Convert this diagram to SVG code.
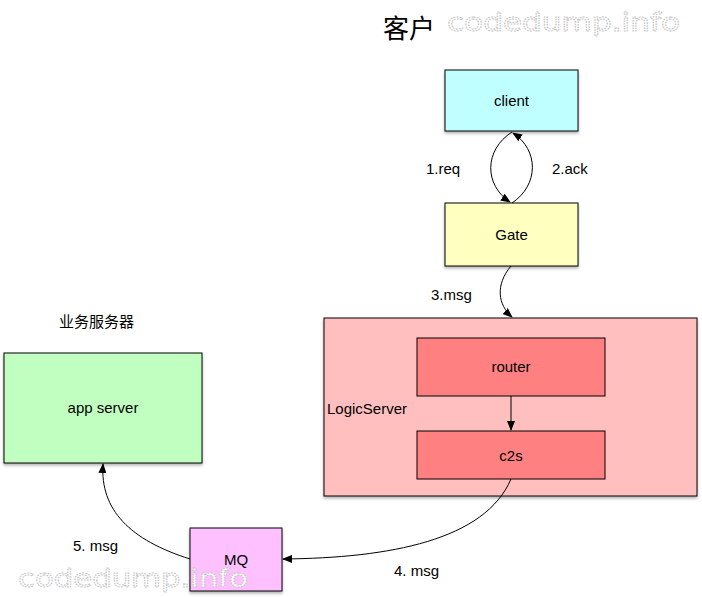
<svg xmlns="http://www.w3.org/2000/svg" width="702" height="597" viewBox="0 0 702 597">
<defs>
<style>
text{font-family:"Liberation Sans","Noto Sans CJK SC",sans-serif;font-size:15px;fill:#000}
.c{text-anchor:middle}
.box{stroke:#000;stroke-width:1}
.edge{fill:none;stroke:#000;stroke-width:1}
.wm{font-family:"DejaVu Sans",sans-serif;font-size:25px;fill:#fff;stroke:#c4c4c4;stroke-width:1;stroke-dasharray:1.5 1}
</style>
<marker id="ah" markerWidth="10" markerHeight="8" refX="9" refY="4" orient="auto" markerUnits="userSpaceOnUse">
<path d="M0,0 L10,4 L0,8 Z" fill="#000"/>
</marker>
<filter id="sh" x="-10%" y="-10%" width="130%" height="130%">
<feDropShadow dx="0" dy="2" stdDeviation="1.5" flood-color="#000" flood-opacity="0.3"/>
</filter>
</defs>
<rect width="702" height="597" fill="#fff"/>
<g id="title"><text x="383" y="38" style="font-size:26px">客户</text></g>
<g id="app-label"><text x="59" y="327">业务服务器</text></g>
<g id="client"><rect class="box" x="445" y="70" width="133" height="61" fill="#C0FFFF" filter="url(#sh)"/><text class="c" x="511.5" y="106">client</text></g>
<g id="gate"><rect class="box" x="445" y="203" width="133" height="63" fill="#FFFFC0" filter="url(#sh)"/><text class="c" x="511.5" y="240">Gate</text></g>
<g id="logicserver"><rect class="box" x="324" y="318" width="373" height="178" fill="#FFBFBF" filter="url(#sh)"/><text x="327" y="414">LogicServer</text></g>
<g id="router"><rect class="box" x="417" y="338" width="188" height="58" fill="#FF8080"/><text class="c" x="511" y="372">router</text></g>
<g id="c2s"><rect class="box" x="417" y="431" width="188" height="48" fill="#FF8080"/><text class="c" x="511" y="461">c2s</text></g>
<g id="appserver"><rect class="box" x="4" y="353" width="198" height="110" fill="#C0FFC0" filter="url(#sh)"/><text class="c" x="103" y="413">app server</text></g>
<g id="mq"><rect class="box" x="190" y="528" width="92" height="63" fill="#FFC0FF" filter="url(#sh)"/><text class="c" x="236" y="565">MQ</text></g>
<g id="connectors">
<path class="edge" d="M512,132 C484,150 484,185 510,202" marker-end="url(#ah)"/>
<path class="edge" d="M512,203 C539,185 539,150 513,133" marker-end="url(#ah)"/>
<path class="edge" d="M511,266 C495,285 498,305 512,317" marker-end="url(#ah)"/>
<path class="edge" d="M511,396 L511,430" marker-end="url(#ah)"/>
<path class="edge" d="M511,479 C485,540 390,558 283,559" marker-end="url(#ah)"/>
<path class="edge" d="M190,559 C130,540 100,510 103,464" marker-end="url(#ah)"/>
</g>
<g id="labels">
<text x="426" y="174">1.req</text>
<text x="552" y="174">2.ack</text>
<text x="431" y="300">3.msg</text>
<text x="394" y="576">4. msg</text>
<text x="73" y="551">5. msg</text>
</g>
<g id="watermarks">
<text class="wm" x="447" y="31" textLength="233" lengthAdjust="spacingAndGlyphs">codedump.info</text>
<text class="wm" x="18" y="587" textLength="230" lengthAdjust="spacingAndGlyphs">codedump.info</text>
</g>
</svg>
